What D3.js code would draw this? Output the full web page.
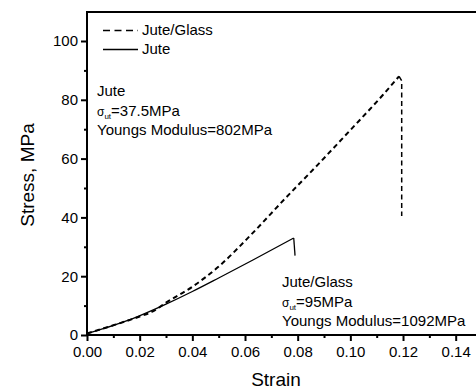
<!DOCTYPE html>
<html>
<head>
<meta charset="utf-8">
<script src="https://cdn.jsdelivr.net/npm/d3@7"></script>
<style>
  body { margin: 0; background: #fff; }
  svg { display: block; font-family: "Liberation Sans", Arial, sans-serif; }
  .axis text { font-size: 15px; fill: #000; font-family: "Liberation Sans", Arial, sans-serif; }
  .axis line { stroke: #000; stroke-width: 2; }
  .axis .domain { display: none; }
</style>
</head>
<body>
<svg width="476" height="390"></svg>
<script>
// Jute/Glass curve (dashed), then its drop at failure
const strainJG = [0, 0.01, 0.02, 0.025, 0.03, 0.04, 0.05, 0.0625, 0.075, 0.0875, 0.1, 0.1125, 0.1185];
const stressJG = [0.5, 3.3, 6.3, 8.0, 11.0, 16.4, 23.3, 34.3, 46.2, 57.8, 69.7, 81.8, 88.0];
const dropJG = [[0.1185, 88.0], [0.1195, 86.5], [0.1195, 40.5]];
// Jute curve (solid), then its drop
const strainJ = [0, 0.01, 0.019, 0.03, 0.04, 0.05, 0.063, 0.0785];
const stressJ = [0.5, 3.3, 6.2, 10.5, 14.8, 19.4, 25.5, 33.0];
const dropJ = [[0.0785, 33.0], [0.079, 27.0]];

const xTicks = [0, 0.02, 0.04, 0.06, 0.08, 0.10, 0.12, 0.14];
const xMinor = [0.01, 0.03, 0.05, 0.07, 0.09, 0.11, 0.13];
const yTicks = [0, 20, 40, 60, 80, 100];
const yMinor = [10, 30, 50, 70, 90];

const svg = d3.select('svg');

const margin = { left: 87, top: 12, bottom: 335 };

const xScale = d3.scaleLinear()
  .domain([0, 0.15])
  .range([margin.left, margin.left + 7.5 * 52.67]);

const yScale = d3.scaleLinear()
  .domain([0, 110])
  .range([margin.bottom, margin.bottom - 110 * 2.94]);

// axes
svg.append('g')
    .attr('class', 'axis')
    .attr('transform', `translate(0,${margin.bottom})`)
  .call(d3.axisBottom(xScale).tickValues(xTicks).tickSize(6).tickPadding(5)
    .tickFormat(d3.format('.2f')));
svg.append('g')
    .attr('class', 'axis')
    .attr('transform', `translate(0,${margin.bottom})`)
  .call(d3.axisBottom(xScale).tickValues(xMinor).tickSize(3).tickFormat(''));

svg.append('g')
    .attr('class', 'axis')
    .attr('transform', `translate(${margin.left},0)`)
  .call(d3.axisLeft(yScale).tickValues(yTicks).tickSize(6).tickPadding(3));
svg.append('g')
    .attr('class', 'axis')
    .attr('transform', `translate(${margin.left},0)`)
  .call(d3.axisLeft(yScale).tickValues(yMinor).tickSize(3).tickFormat(''));

// frame
svg.append('line')
  .attr('x1', margin.left).attr('x2', margin.left)
  .attr('y1', margin.top).attr('y2', margin.bottom)
  .attr('stroke', '#000').attr('stroke-width', 2);
svg.append('line')
  .attr('x1', margin.left - 1).attr('x2', 476)
  .attr('y1', margin.bottom).attr('y2', margin.bottom)
  .attr('stroke', '#000').attr('stroke-width', 2);
svg.append('line')
  .attr('x1', margin.left - 1).attr('x2', 476)
  .attr('y1', margin.top).attr('y2', margin.top)
  .attr('stroke', '#000').attr('stroke-width', 2);

// curves
const smooth = d3.line()
  .x(d => xScale(d[0]))
  .y(d => yScale(d[1]))
  .curve(d3.curveMonotoneX);
const straight = d3.line()
  .x(d => xScale(d[0]))
  .y(d => yScale(d[1]));

svg.append('path')
  .datum(strainJG.map((s, i) => [s, stressJG[i]]))
  .attr('d', smooth)
  .attr('fill', 'none')
  .attr('stroke', '#000')
  .attr('stroke-width', 2)
  .attr('stroke-dasharray', '5,3.5');
svg.append('path')
  .datum(dropJG)
  .attr('d', straight)
  .attr('fill', 'none')
  .attr('stroke', '#000')
  .attr('stroke-width', 1.5)
  .attr('stroke-dasharray', '5,3.5');

svg.append('path')
  .datum(strainJ.map((s, i) => [s, stressJ[i]]))
  .attr('d', smooth)
  .attr('fill', 'none')
  .attr('stroke', '#000')
  .attr('stroke-width', 1.3);
svg.append('path')
  .datum(dropJ)
  .attr('d', straight)
  .attr('fill', 'none')
  .attr('stroke', '#000')
  .attr('stroke-width', 1.3);

// legend
svg.append('line')
  .attr('x1', 103).attr('x2', 138).attr('y1', 30.5).attr('y2', 30.5)
  .attr('stroke', '#000').attr('stroke-width', 1.5)
  .attr('stroke-dasharray', '7,4.5');
svg.append('line')
  .attr('x1', 103).attr('x2', 138).attr('y1', 49.5).attr('y2', 49.5)
  .attr('stroke', '#000').attr('stroke-width', 1.3);
svg.append('text').attr('x', 142).attr('y', 35).attr('font-size', 15).text('Jute/Glass');
svg.append('text').attr('x', 142).attr('y', 54).attr('font-size', 15).text('Jute');

// annotations
const note = (x, y, name, sigma, modulus) => {
  const g = svg.append('g').attr('font-size', 15);
  g.append('text').attr('x', x).attr('y', y).text(name);
  const t = g.append('text').attr('x', x).attr('y', y + 19.5);
  t.append('tspan').attr('font-size', 12).text('σ');
  t.append('tspan').attr('font-size', 8).attr('dy', 3).text('ut');
  t.append('tspan').attr('dy', -3).text('=' + sigma);
  g.append('text').attr('x', x).attr('y', y + 39).text('Youngs Modulus=' + modulus);
};
note(97, 96, 'Jute', '37.5MPa', '802MPa');
note(282, 287, 'Jute/Glass', '95MPa', '1092MPa');

// axis titles
svg.append('text')
  .attr('x', 276).attr('y', 386)
  .attr('text-anchor', 'middle')
  .attr('font-size', 19)
  .text('Strain');
svg.append('text')
  .attr('transform', 'translate(34,175) rotate(-90)')
  .attr('text-anchor', 'middle')
  .attr('font-size', 19)
  .text('Stress, MPa');
</script>
</body>
</html>
